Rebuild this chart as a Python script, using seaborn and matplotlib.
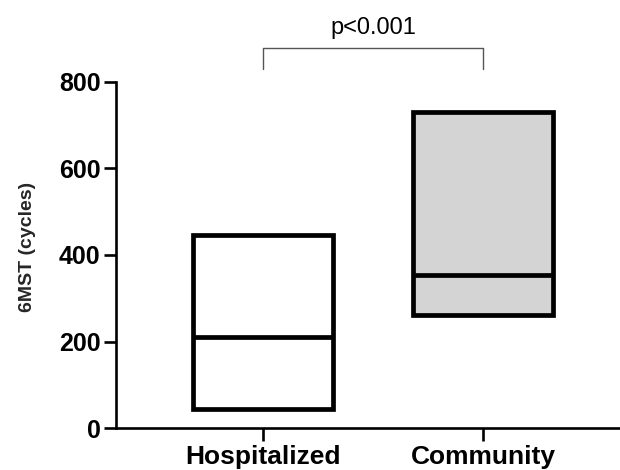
import matplotlib
matplotlib.use("Agg")
import matplotlib.pyplot as plt
import seaborn as sns
import pandas as pd
import numpy as np

groups = ["Hospitalized", "Community"]
mins = [45, 262]
medians = [210, 354]
maxs = [447, 731]
fills = ["#ffffff", "#d4d4d4"]
p_text = "p<0.001"
y_label = "6MST (cycles)"
y_ticks = [0, 200, 400, 600, 800]

sns.set_theme(style="ticks")
plt.rcParams["font.family"] = ["Liberation Sans", "DejaVu Sans"]

df = pd.DataFrame({"group": groups,
                   "height": np.array(maxs) - np.array(mins),
                   "bottom": mins})

fig = plt.figure(figsize=(6.2, 4.7), dpi=100)
ax = fig.add_axes([116 / 620, 1 - 428.3 / 470, 504 / 620, (428.3 - 81.7) / 470])

sns.barplot(data=df, x="group", y="height", order=groups, bottom=df["bottom"].to_numpy(),
            width=0.64, edgecolor="black", linewidth=3.4, color="white", ax=ax, zorder=3)
for patch, fc in zip(ax.patches, fills):
    patch.set_facecolor(fc)
    patch.set_joinstyle("miter")

for i, m in enumerate(medians):
    ax.hlines(m, i - 0.32, i + 0.32, color="black", linewidth=3.4, zorder=4)

ax.set_ylim(0, 800)
ax.set_xlim(-0.668, 1.623)
ax.set_yticks(y_ticks)
ax.set_yticklabels([str(t) for t in y_ticks], fontsize=18, fontweight="bold")
ax.set_xticks(range(len(groups)))
ax.set_xticklabels(groups, fontsize=19, fontweight="bold")
ax.set_xlabel("")
ax.set_ylabel(y_label, fontsize=14, fontweight="bold")
ax.yaxis.set_label_coords(-0.158, 0.523)

sns.despine(ax=ax)
for s in ["left", "bottom"]:
    ax.spines[s].set_linewidth(1.9)
    ax.spines[s].set_color("black")
ax.tick_params(axis="both", width=1.9, length=9, color="black", labelcolor="black")
ax.tick_params(axis="y", pad=2)
ax.tick_params(axis="x", pad=3)

# significance bracket
ax.plot([0, 0, 1, 1], [829, 878, 878, 829], color="#555555", linewidth=1.0, clip_on=False)
ax.text(0.5, 898, p_text, ha="center", va="bottom", fontsize=17, color="black", clip_on=False)

fig.savefig("out.png", dpi=100)
